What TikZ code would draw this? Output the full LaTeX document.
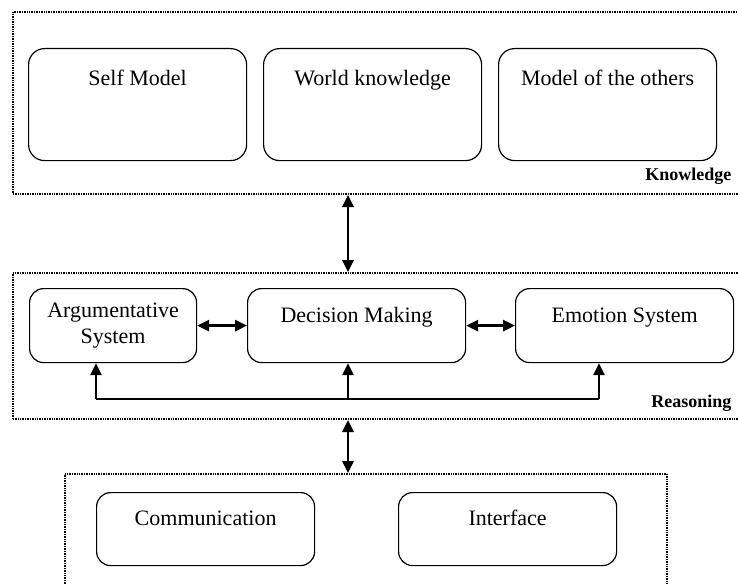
\documentclass[tikz,border=0pt]{standalone}
\usepackage{fontspec}
\setmainfont{Liberation Serif}
\usetikzlibrary{arrows.meta}

\begin{document}
\begin{tikzpicture}
      [x=1pt, y=-1pt,
       frame/.style={draw, line width=2pt, dash pattern=on 1pt off 0.7pt, inner sep=0pt, anchor=north west},
       part/.style={draw, line width=1.2pt, rounded corners=14pt, inner sep=0pt, anchor=north west,
                    align=center, minimum width=218pt, font=\fontsize{22}{26}\selectfont},
       tall/.style={text height=37pt, text depth=75pt, rounded corners=16pt},
       mid/.style={text height=34pt, text depth=40pt},
       low/.style={text height=33pt, text depth=40pt},
       tag/.style={anchor=base east, font=\fontsize{18}{20}\selectfont\bfseries},
       link/.style={line width=2.7pt, {Triangle[width=11pt,length=12pt]}-{Triangle[width=11pt,length=12pt]}},
       feed/.style={line width=2.7pt, -{Triangle[width=11pt,length=12pt]}},
      ]
      \useasboundingbox (0,0) rectangle (738,583);

      % knowledge layer
      \node[frame, minimum width=730pt, minimum height=182pt] (know) at (12,11) {};
      \node[part, tall] (self) at (28,48) {Self Model};
      \node[part, tall] (world) at (263,48) {World knowledge};
      \node[part, tall] (others) at (498,48) {Model of the others};
      \node[tag] (knowtag) at (735,180) {Knowledge};

      % reasoning layer
      \node[frame, minimum width=730pt, minimum height=146pt] (reas) at (12,272) {};
      \node[part, minimum width=167pt, minimum height=74pt] (arg) at (29,288) {Argumentative\\System};
      \node[part, mid] (dm) at (247,288) {Decision Making};
      \node[part, mid] (emo) at (515,288) {Emotion System};
      \node[tag] (reastag) at (735,407) {Reasoning};

      % interaction layer
      \node[frame, minimum width=602pt, minimum height=130pt] (io) at (64,473) {};
      \node[part, low] (comm) at (96,492) {Communication};
      \node[part, low] (iface) at (398,492) {Interface};

      \coordinate (ax) at (348,0);
      \coordinate (b1) at (96,399);
      \coordinate (b2) at (348,399);
      \coordinate (b3) at (599,399);

      \draw[link] (know.south -| ax) -- (reas.north -| ax);
      \draw[link] (reas.south -| ax) -- (io.north -| ax);
      \draw[link] (arg) -- (dm);
      \draw[link] (dm) -- (emo);

      \draw[line width=2pt] (b1) -- (b3);
      \draw[feed] (b1) -- (b1 |- arg.south);
      \draw[feed] (b2) -- (b2 |- dm.south);
      \draw[feed] (b3) -- (b3 |- emo.south);
    \end{tikzpicture}
\end{document}
